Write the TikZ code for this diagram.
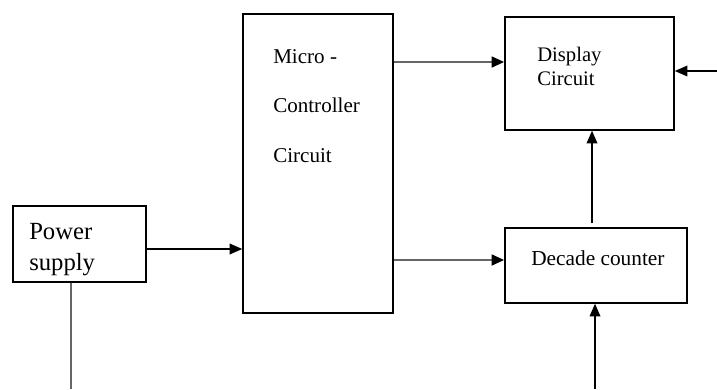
\documentclass[tikz,border=0pt]{standalone}
\usepackage{fontspec}
\setmainfont{Liberation Serif}
\usetikzlibrary{arrows.meta}

\begin{document}
\begin{tikzpicture}[x=0.75pt, y=-0.75pt,
  block/.style={draw, line width=1.1pt, inner sep=0pt},
  txt/.style={anchor=base west, inner sep=0pt, align=left},
  feed/.style={draw=black!60, line width=2pt, -{Triangle[length=9.5pt, width=8pt, color=black]}},
  sig/.style={draw, line width=1.1pt, -{Triangle[length=9.5pt, width=8pt]}}]
  \useasboundingbox (0,0) rectangle (717,389);
  % blocks
  \node[block, minimum width=99.75pt, minimum height=57pt] (ps) at (79.5,244) {};
  \node[block, minimum width=112.5pt, minimum height=224.25pt] (mc) at (318,163.5) {};
  \node[block, minimum width=126.75pt, minimum height=84.75pt] (disp) at (589.5,73.5) {};
  \node[block, minimum width=136.5pt, minimum height=56.25pt] (dec) at (596,265.5) {};
  % texts (base = last line)
  \node[txt, font=\fontsize{18.5}{23}\selectfont] (psText) at (29,270) {Power\\supply};
  \node[txt, font=\fontsize{15.8}{36.8}\selectfont] (mcText) at (273,162) {Micro -\\Controller\\Circuit};
  \node[txt, font=\fontsize{15.5}{17.3}\selectfont] (dispText) at (537,85) {Display\\Circuit};
  \node[txt, font=\fontsize{16}{19}\selectfont] (decText) at (531,265) {Decade counter};
  % free ends
  \coordinate (psEnd) at (71,389);
  \coordinate (dispIn) at (717,71);
  \coordinate (decIn) at (595,389);
  \coordinate (decUp) at (592,223);
  % connectors
  \draw[draw=black!60, line width=2pt] (ps.south -| psEnd) -- (psEnd);
  \draw[sig] (ps.east |- 0,249) -- (mc.west |- 0,249);
  \draw[feed] (mc.east |- 0,62) -- (disp.west |- 0,62);
  \draw[feed] (mc.east |- 0,260) -- (dec.west |- 0,260);
  \draw[sig] (dispIn) -- (disp.east |- dispIn);
  \draw[sig] (decUp) -- (disp.south -| decUp);
  \draw[sig] (decIn) -- (dec.south -| decIn);
\end{tikzpicture}
\end{document}
